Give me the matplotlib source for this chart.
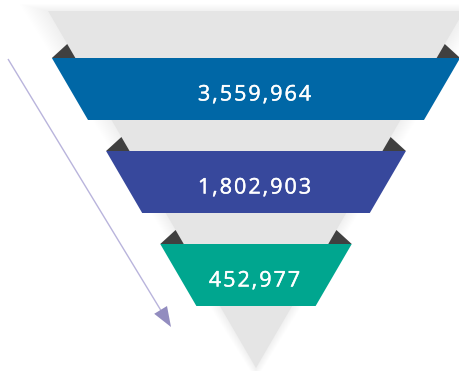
import numpy as np
import matplotlib
matplotlib.use("Agg")
import matplotlib.pyplot as plt
from matplotlib.patches import Polygon
from matplotlib import font_manager
from matplotlib.font_manager import FontProperties
from matplotlib.ft2font import FT2Font
import matplotlib.patheffects as pe

# ---- data ----
stages = ["Stage 1", "Stage 2", "Stage 3"]
values = [3559964, 1802903, 452977]
band_colors = ["#0067A6", "#37489C", "#00A68F"]

# ---- layout (pixels) ----
W, H = 459, 371
cx = 256.0
tri_top, tri_half, apex_y = 11.0, 208.0, 368.0
band_top0, band_step, band_h = 58.0, 93.0, 62.0
overhang = 23.5
fold_h = 14.0
gray = "#E5E5E5"
fold_col = "#404040"

def hw(y):
    return tri_half * (apex_y - y) / (apex_y - tri_top)

fig = plt.figure(figsize=(W / 100, H / 100), dpi=100)
ax = fig.add_axes([0, 0, 1, 1])
ax.set_xlim(0, W)
ax.set_ylim(H, 0)
ax.axis("off")

# soft shadow around triangle
for k in range(1, 16):
    e = k * 1.6
    poly = [(cx - tri_half - e * 1.2, tri_top - e * 0.3),
            (cx + tri_half + e * 1.0, tri_top - e * 0.3),
            (cx, apex_y + e * 0.5)]
    ax.add_patch(Polygon(poly, closed=True, facecolor="black", alpha=0.003,
                         edgecolor="none", zorder=0))

# gray triangle
ax.add_patch(Polygon([(cx - tri_half, tri_top), (cx + tri_half, tri_top), (cx, apex_y)],
                     closed=True, facecolor=gray, edgecolor="none", zorder=1))

# font for labels
fs = 15.5
fp = FontProperties(family="Open Sans", size=fs)
ft = FT2Font(font_manager.findfont(fp))
ft.set_size(fs, 100)
spacing = 2.0
effects = [pe.Stroke(linewidth=0.3, foreground="white"), pe.Normal()]

def spaced_text(x_center, y_base, s):
    adv = [ft.load_char(ord(c)).linearHoriAdvance / 65536.0 for c in s]
    total = sum(adv) + spacing * (len(s) - 1)
    x = x_center - total / 2
    for c, a in zip(s, adv):
        ax.text(x + a / 2, y_base, c, color="white", fontproperties=fp,
                ha="center", va="baseline", zorder=5, path_effects=effects)
        x += a + spacing

for i, (v, col) in enumerate(zip(values, band_colors)):
    yt = band_top0 + i * band_step
    yb = yt + band_h
    lt = cx - hw(yt) - overhang
    rt = cx + hw(yt) + overhang
    lb = cx - hw(yb) - overhang
    rb = cx + hw(yb) + overhang
    # folds
    ax.add_patch(Polygon([(lt, yt), (cx - hw(yt - fold_h), yt - fold_h), (cx - hw(yt), yt)],
                         closed=True, facecolor=fold_col, edgecolor="none", zorder=2))
    ax.add_patch(Polygon([(rt, yt), (cx + hw(yt - fold_h), yt - fold_h), (cx + hw(yt), yt)],
                         closed=True, facecolor=fold_col, edgecolor="none", zorder=2))
    ax.add_patch(Polygon([(lt, yt), (rt, yt), (rb, yb), (lb, yb)], closed=True,
                         facecolor=col, edgecolor="none", zorder=3))
    spaced_text(cx - 1.5, yt + 42.5, f"{v:,}")

# arrow
start = np.array([8.0, 59.0])
tip = np.array([171.0, 327.0])
u = (tip - start) / np.linalg.norm(tip - start)
n = np.array([u[1], -u[0]])
head_len, head_w = 20.0, 15.0
base = tip - u * head_len
ax.plot([start[0], base[0] + u[0] * 3], [start[1], base[1] + u[1] * 3],
        color="#B9B4DC", lw=1.0, zorder=4, solid_capstyle="butt")
ax.add_patch(Polygon([tuple(tip), tuple(base + n * head_w / 2), tuple(base - n * head_w / 2)],
                     closed=True, facecolor="#928CBF", edgecolor="none", zorder=4))

fig.savefig("out.png", dpi=100, facecolor="white")
